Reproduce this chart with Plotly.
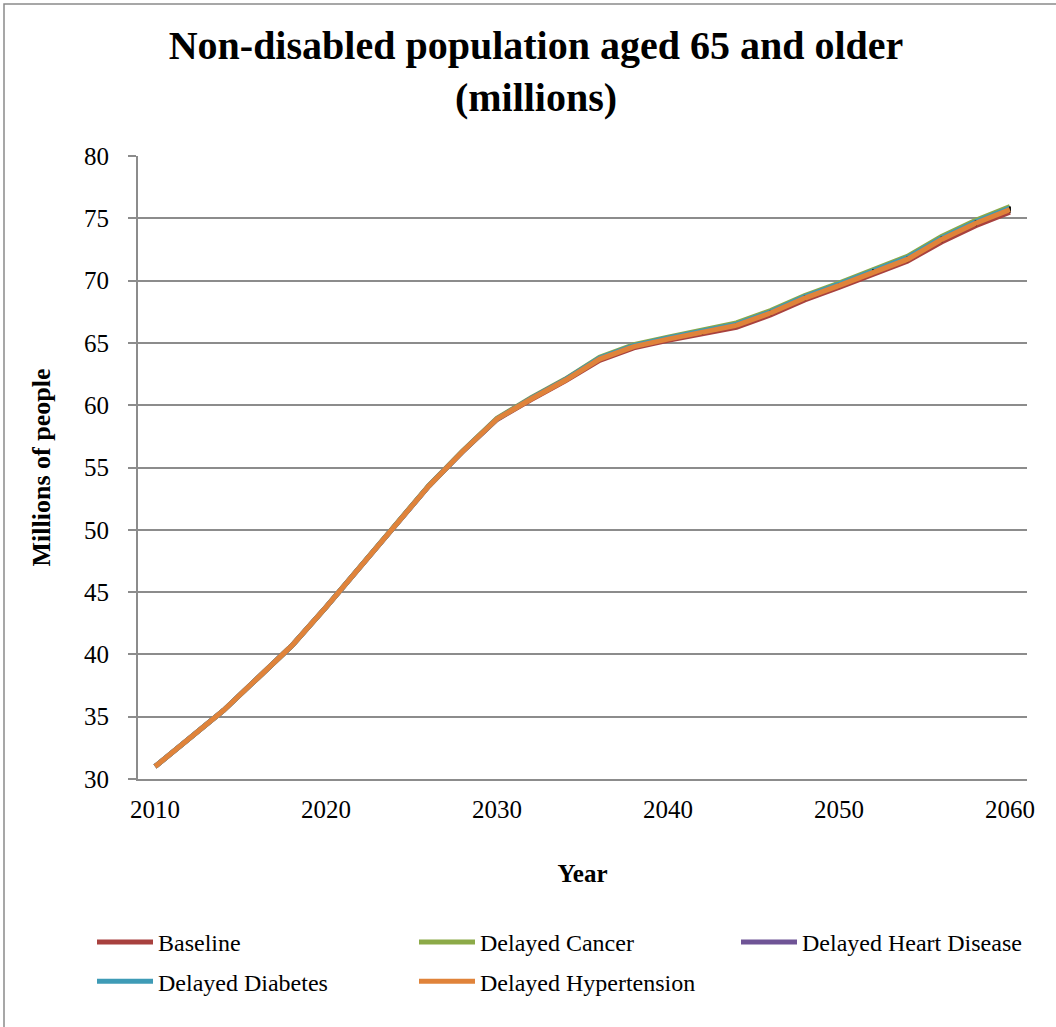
import plotly.graph_objects as go

# Projection years (one point every two years)
years = [2010, 2012, 2014, 2016, 2018, 2020, 2022, 2024, 2026, 2028, 2030, 2032, 2034,
         2036, 2038, 2040, 2042, 2044, 2046, 2048, 2050, 2052, 2054, 2056, 2058, 2060]

# Non-disabled population aged 65+, millions, by scenario
baseline = [31.0, 33.2, 35.5, 38.1, 40.7, 43.8, 47.0, 50.2, 53.5, 56.3, 58.85, 60.45, 61.95,
            63.6, 64.6, 65.2, 65.7, 66.25, 67.25, 68.45, 69.45, 70.55, 71.55, 73.1, 74.4, 75.5]
delayed_cancer = [31.0, 33.2, 35.5, 38.1, 40.7, 43.8, 47.0, 50.2, 53.55, 56.35, 58.95, 60.6, 62.1,
                  63.85, 64.85, 65.45, 66.0, 66.6, 67.6, 68.8, 69.8, 70.9, 71.95, 73.55, 74.85, 75.95]
delayed_heart = [31.0, 33.2, 35.5, 38.1, 40.7, 43.8, 47.0, 50.2, 53.5, 56.3, 58.9, 60.55, 62.05,
                 63.75, 64.75, 65.35, 65.85, 66.45, 67.45, 68.65, 69.65, 70.75, 71.8, 73.35, 74.65, 75.75]
delayed_diabetes = [31.0, 33.2, 35.5, 38.1, 40.7, 43.8, 47.0, 50.2, 53.5, 56.3, 58.9, 60.55, 62.05,
                    63.78, 64.78, 65.4, 65.9, 66.5, 67.5, 68.72, 69.72, 70.82, 71.85, 73.42, 74.72, 75.82]
delayed_hypertension = [31.0, 33.2, 35.5, 38.1, 40.7, 43.8, 47.0, 50.2, 53.5, 56.3, 58.9, 60.5, 62.0,
                        63.7, 64.7, 65.3, 65.8, 66.4, 67.4, 68.6, 69.6, 70.7, 71.7, 73.3, 74.6, 75.7]
# half-width of the uncertainty marks on the hypertension scenario
hypertension_err = [0, 0, 0, 0, 0, 0.06, 0.06, 0.06, 0.06, 0.07, 0.08, 0.09, 0.1,
                    0.1, 0.12, 0.14, 0.15, 0.17, 0.19, 0.2, 0.2, 0.21, 0.22, 0.23, 0.23, 0.25]

series_names = ["Baseline", "Delayed Cancer", "Delayed Heart Disease",
                "Delayed Diabetes", "Delayed Hypertension"]
series_values = [baseline, delayed_cancer, delayed_heart, delayed_diabetes, delayed_hypertension]
series_colors = ["#A8413E", "#8CAA48", "#6F5496", "#3E9BB6", "#E0833A"]
# legend column for each series (three columns, two rows)
series_legend = ["legend", "legend2", "legend3", "legend", "legend2"]

x_ticks = [2010, 2020, 2030, 2040, 2050, 2060]
y_ticks = [30, 35, 40, 45, 50, 55, 60, 65, 70, 75, 80]

SERIF = "Liberation Serif"

fig = go.Figure()
for name, vals, col, leg in zip(series_names, series_values, series_colors, series_legend):
    kw = {}
    if name == "Delayed Hypertension":
        kw["error_y"] = dict(type="data", array=hypertension_err, symmetric=True,
                             color="black", thickness=2, width=0)
    fig.add_trace(go.Scatter(x=years, y=vals, mode="lines", name=name,
                             legend=leg, legendgroup=name,
                             line=dict(color=col, width=5), **kw))

# plot-area geometry in pixels
L, R, T, B, W, H = 138, 29, 156, 248, 1056, 1027
pw, ph = W - L - R, H - T - B

def px_x(p):
    return (p - L) / pw

def px_y(p):
    return (H - B - p) / ph

# outer chart frame (top and left edges)
fx0, fy0 = px_x(4), px_y(4)
fx1, fy1 = px_x(1200), px_y(1200)
fig.add_shape(type="path", xref="paper", yref="paper",
              path=f"M {fx0},{fy1} L {fx0},{fy0} L {fx1},{fy0}",
              line=dict(color="#8a8a8a", width=1.5), layer="below")

legend_style = dict(orientation="v", xanchor="left", yanchor="top", y=px_y(920),
                    itemwidth=56, tracegroupgap=5, bgcolor="rgba(0,0,0,0)",
                    font=dict(family=SERIF, size=24))

fig.update_layout(
    width=W, height=H,
    margin=dict(l=L, r=R, t=T, b=B),
    paper_bgcolor="white", plot_bgcolor="white",
    font=dict(family=SERIF, color="black", size=24),
    title=dict(text="<b>Non-disabled population aged 65 and older<br>(millions)</b>",
               x=536 / W, xanchor="center", yref="container", y=1 - 59 / H, yanchor="middle",
               font=dict(family=SERIF, size=40, color="black")),
    xaxis=dict(range=[2009, 2061], tickvals=x_ticks, ticktext=[str(v) for v in x_ticks],
               showgrid=False, zeroline=False, showline=True, linecolor="#8c8c8c", linewidth=2,
               ticks="", ticklabelstandoff=7, tickfont=dict(family=SERIF, size=25),
               title=dict(text="<b>Year</b>", font=dict(family=SERIF, size=25), standoff=42)),
    yaxis=dict(range=[30, 80], tickvals=y_ticks, ticktext=[str(v) for v in y_ticks],
               showgrid=True, gridcolor="#8c8c8c", gridwidth=2, zeroline=False,
               showline=True, linecolor="#8c8c8c", linewidth=2,
               ticks="outside", ticklen=8, tickcolor="#8c8c8c", tickwidth=2,
               ticklabelstandoff=14, tickfont=dict(family=SERIF, size=25),
               title=dict(text="<b>Millions of people</b>", font=dict(family=SERIF, size=26),
                          standoff=26)),
    legend=dict(x=px_x(92), **legend_style),
    legend2=dict(x=px_x(414), **legend_style),
    legend3=dict(x=px_x(736), **legend_style),
    showlegend=True,
)

fig.write_html("out.html")
